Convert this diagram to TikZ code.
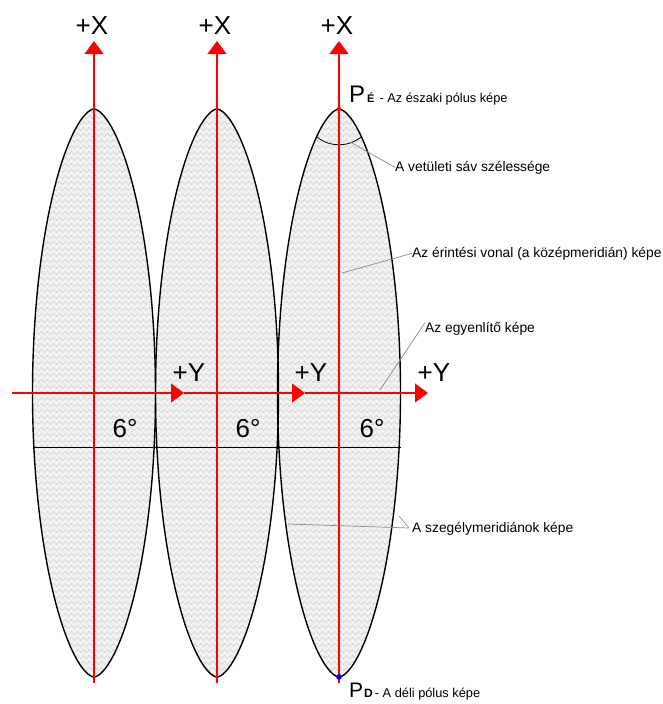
\documentclass[tikz,border=0pt]{standalone}
\usepackage{fontspec}
\setmainfont{Liberation Sans}
\usetikzlibrary{arrows.meta,decorations.pathmorphing}
\tikzset{
  lenspath/.style={insert path={(#1,109) -- plot[domain=89.5:-89.5,samples=120,variable=\t] ({#1+61.5*pow(cos(\t),1.2)},{393-284*sin(\t)}) -- (#1,677) -- plot[domain=-89.5:89.5,samples=120,variable=\t] ({#1-61.5*pow(cos(\t),1.2)},{393-284*sin(\t)}) -- cycle}},
  lensline/.style={draw=black, line width=1.4pt},
  zz/.style={draw=black!18, line width=0.6pt, decorate, decoration={zigzag,segment length=6pt,amplitude=1.6pt}},
  axis/.style={draw=red, line width=1.3pt},
  axisarrow/.style={axis, -{Triangle[length=13pt,width=19pt]}},
  biglbl/.style={inner sep=0pt, font=\fontsize{26}{26}\selectfont},
  smalllbl/.style={inner sep=0pt, anchor=base west, font=\fontsize{13.8}{14}\selectfont},
  polelbl/.style={inner sep=0pt, anchor=base west, font=\fontsize{12.8}{13}\selectfont},
  leader/.style={draw=black!45, line width=0.7pt}
}
\begin{document}
\begin{tikzpicture}[x=1pt,y=-1pt]
\useasboundingbox (0,0) rectangle (663,704);
% lens fills with texture
\foreach \c in {94,217,339}{
  \begin{scope}
    \clip[lenspath=\c];
    \fill[black!5] (\c-64,100) rectangle (\c+64,690);
    \foreach \yy in {111,117,...,681} \draw[zz] (\c-66,\yy) -- (\c+66,\yy);
  \end{scope}
}
% lens outlines
\foreach \c in {94,217,339} \draw[lensline, lenspath=\c];
% equator black line
\coordinate (eqL) at (33,447);
\coordinate (eqR) at (401,447);
\draw[black, line width=0.8pt] (eqL) -- (eqR);
% width arc on third lens
\coordinate (arcS) at (317,137);
\draw[black, line width=0.8pt] (arcS) arc[start angle=129, end angle=51, radius=35];
% vertical X axes
\foreach \c/\n in {94/1,217/2,339/3}{
  \coordinate (xb\n) at (\c,683);
  \coordinate (xt\n) at (\c,41);
  \draw[axisarrow] (xb\n) -- (xt\n);
  \node[biglbl] (X\n) at (\c-2,26) {+X};
}
% horizontal Y axis
\coordinate (ya) at (12,393);
\coordinate (y1) at (184,393);
\coordinate (y2) at (305,393);
\coordinate (y3) at (428,393);
\draw[axisarrow] (ya) -- (y1);
\draw[axisarrow] (y1) -- (y2);
\draw[axisarrow] (y2) -- (y3);
\node[biglbl] (Y1) at (189,373) {+Y};
\node[biglbl] (Y2) at (311,373) {+Y};
\node[biglbl] (Y3) at (434,373) {+Y};
% 6 degree labels
\node[biglbl] (D1) at (125,429) {6°};
\node[biglbl] (D2) at (248,429) {6°};
\node[biglbl] (D3) at (372,429) {6°};
% poles
\fill[red] (339,109) circle[radius=2.3pt];
\fill[blue] (339,677) circle[radius=2.8pt];
\node[polelbl] (PN) at (349,102) {{\fontsize{24}{24}\selectfont P}\hspace{2pt}{\fontsize{11}{11}\selectfont\bfseries É}\hspace{5pt}- Az északi pólus képe};
\node[polelbl] (PS) at (349,697) {{\fontsize{21}{21}\selectfont P}\hspace{1pt}{\fontsize{12}{12}\selectfont\bfseries D}\hspace{2pt}- A déli pólus képe};
% annotations
\node[smalllbl] (Tsav) at (395,171) {A vetületi sáv szélessége};
\node[smalllbl] (Terint) at (412,257) {Az érintési vonal (a középmeridián) képe};
\node[smalllbl] (Tegy) at (425,332) {Az egyenlítő képe};
\node[smalllbl] (Tszeg) at (412,532) {A szegélymeridiánok képe};
% leaders
\coordinate (cSav) at (350,142);
\coordinate (cErint) at (342,273);
\coordinate (cEgy) at (380,390);
\coordinate (cSzL) at (288,524);
\coordinate (cSzR) at (399,516);
\coordinate (jSz) at (409,528);
\draw[leader] (cSav) -- (Tsav.west);
\draw[leader] (cErint) -- (Terint.west);
\draw[leader] (cEgy) -- ([yshift=-1pt]Tegy.north west);
\draw[leader] (cSzL) -- (jSz);
\draw[leader] (cSzR) -- (jSz);
\end{tikzpicture}
\end{document}
